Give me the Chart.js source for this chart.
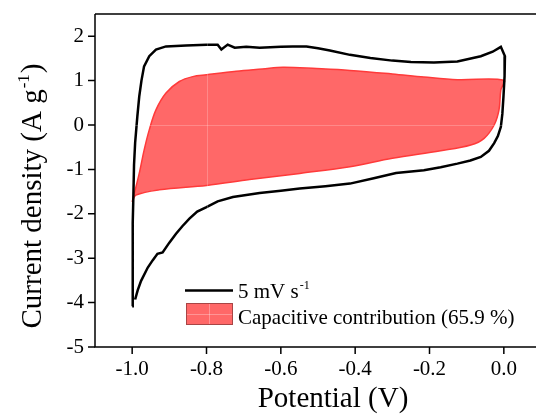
<!DOCTYPE html>
<html>
<head>
<meta charset="utf-8">
<script src="https://cdn.jsdelivr.net/npm/chart.js@4/dist/chart.umd.min.js"></script>
<style>
  html, body { margin: 0; padding: 0; background: #fff; overflow: hidden; }
  #wrap { width: 541px; height: 414px; }
</style>
</head>
<body>
<div id="wrap"><canvas id="cvChart" width="541" height="414"></canvas></div>
<script>
// CV curve at 5 mV/s (potential in V, current density in A/g)
const cvX = [-1.000, -0.999, -0.998, -0.997, -0.995, -0.992, -0.989, -0.986, -0.981, -0.975,
  -0.968, -0.954, -0.936, -0.909, -0.855, -0.800, -0.770, -0.760, -0.743, -0.724,
  -0.693, -0.657, -0.600, -0.568, -0.531, -0.500, -0.468, -0.414, -0.359, -0.300,
  -0.250, -0.188, -0.125, -0.062, -0.030, -0.008, 0.003, 0.002, -0.001, -0.004,
  -0.008, -0.016, -0.026, -0.040, -0.062, -0.090, -0.125, -0.170, -0.215, -0.290,
  -0.350, -0.414, -0.480, -0.549, -0.600, -0.657, -0.729, -0.770, -0.800, -0.825,
  -0.846, -0.865, -0.882, -0.900, -0.918, -0.932, -0.945, -0.958, -0.976, -0.985, -0.992];
const cvY = [-4.08, -3.00, -2.20, -1.70, -0.90, -0.40, -0.10, 0.20, 0.64, 1.00,
  1.32, 1.55, 1.70, 1.77, 1.79, 1.81, 1.81, 1.70, 1.81, 1.74,
  1.76, 1.74, 1.76, 1.77, 1.77, 1.73, 1.68, 1.58, 1.51, 1.45,
  1.42, 1.41, 1.43, 1.55, 1.65, 1.76, 1.55, 1.10, 0.64, 0.25,
  -0.04, -0.25, -0.41, -0.58, -0.72, -0.80, -0.87, -0.95, -1.02, -1.08,
  -1.20, -1.32, -1.38, -1.43, -1.48, -1.53, -1.62, -1.72, -1.85, -1.95,
  -2.11, -2.28, -2.45, -2.65, -2.87, -2.90, -3.05, -3.21, -3.51, -3.72, -3.93];

// capacitive contribution (closed region)
const capX = [-1.000, -0.981, -0.968, -0.954, -0.936, -0.909, -0.873, -0.837, -0.800, -0.720,
  -0.650, -0.594, -0.504, -0.414, -0.300, -0.215, -0.125, 0.000, -0.008, -0.013,
  -0.026, -0.053, -0.089, -0.170, -0.300, -0.414, -0.549, -0.684, -0.800, -0.927,
  -0.990, -1.000];
const capY = [-1.73, -1.09, -0.57, -0.11, 0.34, 0.72, 0.98, 1.09, 1.13, 1.21,
  1.26, 1.30, 1.27, 1.23, 1.15, 1.08, 1.02, 1.01, 0.79, 0.34,
  0.00, -0.30, -0.45, -0.58, -0.75, -0.94, -1.09, -1.23, -1.36, -1.46,
  -1.58, -1.73];

const xTickLabels = ['-1.0', '-0.8', '-0.6', '-0.4', '-0.2', '0.0'];
const yTickLabels = ['-5', '-4', '-3', '-2', '-1', '0', '1', '2'];
const seriesNames = ['5 mV s', 'Capacitive contribution (65.9 %)'];

const toPoints = (xs, ys) => xs.map((x, i) => ({ x: x, y: ys[i] }));
const fmt1 = v => (Math.abs(v) < 1e-9 ? 0 : v).toFixed(1);

const serif = '"Liberation Serif", "Times New Roman", serif';
const redFill = '#ff6868';
Chart.defaults.font.family = serif;
Chart.defaults.color = '#000';

// keep the plot box where the original has it (no label overhang padding)
const noPad = s => { s.paddingLeft = 0; s.paddingRight = 0; s.paddingTop = 0; s.paddingBottom = 0; };

// ticks, titles, legend and the top frame line
const decorPlugin = {
  id: 'decor',
  afterDatasetsDraw(chart) {
    const ctx = chart.ctx;
    const a = chart.chartArea;
    const xs = chart.scales.x, ys = chart.scales.y;
    // faint light cross inside the filled region (as in the original export)
    ctx.save();
    ctx.globalCompositeOperation = 'source-atop';
    ctx.strokeStyle = 'rgba(255,255,255,0.22)';
    ctx.lineWidth = 1;
    const gx = Math.round(xs.getPixelForValue(-0.8)) + 0.5;
    const gy = Math.round(ys.getPixelForValue(0)) + 0.5;
    ctx.beginPath();
    ctx.moveTo(gx, a.top); ctx.lineTo(gx, a.bottom);
    ctx.moveTo(a.left, gy); ctx.lineTo(a.right, gy);
    ctx.stroke();
    ctx.restore();
  },
  afterDraw(chart) {
    const ctx = chart.ctx;
    const a = chart.chartArea;
    const xs = chart.scales.x, ys = chart.scales.y;
    ctx.save();
    ctx.strokeStyle = '#000';
    ctx.lineWidth = 1.5;
    // frame: left, bottom, top
    ctx.beginPath();
    ctx.moveTo(a.left, a.top); ctx.lineTo(a.right, a.top);
    ctx.moveTo(a.left, a.top); ctx.lineTo(a.left, a.bottom);
    ctx.lineTo(a.right, a.bottom);
    ctx.stroke();
    // tick marks
    ctx.beginPath();
    xs.ticks.forEach(t => {
      const px = xs.getPixelForValue(t.value);
      const len = xTickLabels.includes(fmt1(t.value)) ? 7 : 4;
      ctx.moveTo(px, a.bottom); ctx.lineTo(px, a.bottom + len);
    });
    ys.ticks.forEach(t => {
      const py = ys.getPixelForValue(t.value);
      const len = yTickLabels.includes(String(t.value)) ? 7 : 4;
      ctx.moveTo(a.left, py); ctx.lineTo(a.left - len, py);
    });
    ctx.stroke();

    // axis titles
    ctx.fillStyle = '#000';
    ctx.textBaseline = 'alphabetic';
    ctx.font = '29px ' + serif;
    ctx.textAlign = 'center';
    ctx.fillText('Potential (V)', 333, 407);

    ctx.save();
    ctx.translate(41, 197);
    ctx.rotate(-Math.PI / 2);
    const p1 = 'Current density (A g', sup = '-1', p2 = ')';
    ctx.font = '29px ' + serif;
    const w1 = ctx.measureText(p1).width, w3 = ctx.measureText(p2).width;
    ctx.font = '17px ' + serif;
    const w2 = ctx.measureText(sup).width;
    let sx = -(w1 + w2 + w3) / 2;
    ctx.textAlign = 'left';
    ctx.font = '29px ' + serif;
    ctx.fillText(p1, sx, 0);
    ctx.font = '17px ' + serif;
    ctx.fillText(sup, sx + w1 + 1, -12);
    ctx.font = '29px ' + serif;
    ctx.fillText(p2, sx + w1 + w2 + 2, 0);
    ctx.restore();

    // legend
    ctx.lineWidth = 2.5;
    ctx.beginPath();
    ctx.moveTo(185, 290.5); ctx.lineTo(233, 290.5);
    ctx.stroke();
    ctx.font = '21px ' + serif;
    ctx.textAlign = 'left';
    ctx.fillText(seriesNames[0], 238, 298);
    const lw = ctx.measureText(seriesNames[0]).width;
    ctx.font = '12px ' + serif;
    ctx.fillText('-1', 238 + lw + 1, 289);
    ctx.fillStyle = redFill;
    ctx.fillRect(186, 303, 47, 22);
    ctx.strokeStyle = 'rgba(255,255,255,0.3)';
    ctx.lineWidth = 1;
    ctx.beginPath();
    ctx.moveTo(209.5, 304); ctx.lineTo(209.5, 324);
    ctx.moveTo(187, 314.5); ctx.lineTo(232, 314.5);
    ctx.stroke();
    ctx.strokeStyle = '#a84545';
    ctx.strokeRect(186.5, 303.5, 46, 21);
    ctx.fillStyle = '#000';
    ctx.font = '21px ' + serif;
    ctx.fillText(seriesNames[1], 238, 324);
    ctx.restore();
  }
};

const cvChart = new Chart(document.getElementById('cvChart'), {
  type: 'scatter',
  data: {
    datasets: [{
      label: seriesNames[0],
      data: toPoints(cvX, cvY),
      showLine: true,
      borderColor: '#000',
      borderWidth: 2.5,
      pointRadius: 0,
      tension: 0,
      fill: false,
      order: 0
    }, {
      label: seriesNames[1],
      data: toPoints(capX, capY),
      showLine: true,
      borderColor: '#ff3a3a',
      backgroundColor: redFill,
      borderWidth: 1.5,
      pointRadius: 0,
      tension: 0.35,
      fill: 'shape',
      order: 1
    }]
  },
  options: {
    responsive: false,
    animation: false,
    layout: { padding: { left: 0, top: 14, right: 0, bottom: 0 } },
    plugins: {
      legend: { display: false },
      tooltip: { enabled: false }
    },
    scales: {
      x: {
        type: 'linear',
        min: -1.1, max: 0.1,
        grid: { display: false, drawTicks: false },
        border: { display: false },
        ticks: {
          stepSize: 0.1,
          padding: 10,
          color: '#000',
          font: { family: serif, size: 21 },
          maxRotation: 0,
          autoSkip: false,
          callback: v => (xTickLabels.includes(fmt1(v)) ? fmt1(v) : null)
        },
        afterFit: s => { s.height = 67; noPad(s); }
      },
      y: {
        type: 'linear',
        min: -5, max: 2.5,
        grid: { display: false, drawTicks: false },
        border: { display: false },
        ticks: {
          stepSize: 0.5,
          padding: 11,
          color: '#000',
          font: { family: serif, size: 21 },
          autoSkip: false,
          callback: v => (yTickLabels.includes(String(v)) ? String(v) : null)
        },
        afterFit: s => { s.width = 95; noPad(s); }
      }
    }
  },
  plugins: [decorPlugin]
});
</script>
</body>
</html>
